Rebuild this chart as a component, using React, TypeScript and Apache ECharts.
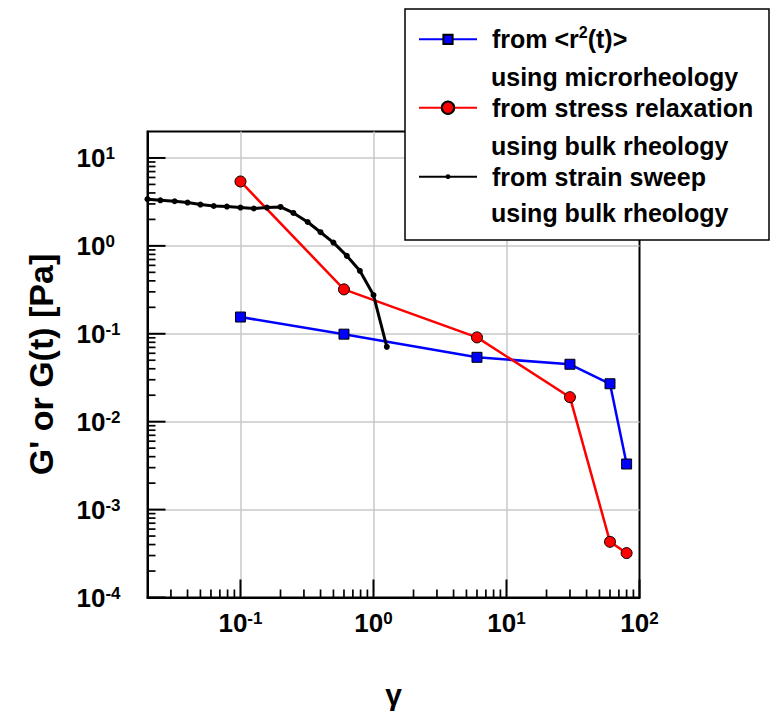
import React, { useEffect, useRef } from 'react';
import * as echarts from 'echarts';

// ---- data ----
const microX = [0.1, 0.6, 6, 30, 60, 80];
const microY = [0.155, 0.099, 0.054, 0.045, 0.027, 0.0033];

const relaxX = [0.1, 0.6, 6, 30, 60, 80];
const relaxY = [5.4, 0.32, 0.091, 0.019, 0.00043, 0.00032];

const sweepX = [0.02, 0.025, 0.032, 0.04, 0.05, 0.063, 0.079, 0.1, 0.126, 0.158, 0.2, 0.25, 0.32, 0.4, 0.5, 0.63, 0.79, 1.0, 1.26];
const sweepY = [3.4, 3.3, 3.22, 3.11, 2.95, 2.84, 2.8, 2.73, 2.66, 2.73, 2.77, 2.37, 1.87, 1.43, 1.09, 0.77, 0.52, 0.276, 0.071];

const seriesNames = ['micro', 'relax', 'sweep'];
const legendLine1 = ['{t|from <r}{u|2}{t|(t)>}', '{t|from stress relaxation}', '{t|from strain sweep}'];
const legendLine2 = ['using microrheology', 'using bulk rheology', 'using bulk rheology'];

// ---- axes ----
const X_MIN = 0.02;
const X_MAX = 100;
const Y_MIN = 1e-4;
const Y_MAX = 20;
const xMajor = [0.1, 1, 10, 100];
const yMajor = [1e-4, 1e-3, 1e-2, 1e-1, 1, 10];
const xDecades = [0.01, 0.1, 1, 10];
const yDecades = [1e-4, 1e-3, 1e-2, 1e-1, 1, 10];
const minorSteps = [2, 3, 4, 5, 6, 7, 8, 9];

const FONT = '"Liberation Sans", Arial, Helvetica, sans-serif';

function pairs(xs: number[], ys: number[]) {
  return xs.map((x, i) => [x, ys[i]]);
}

function expLabel(v: number) {
  const e = Math.log10(v);
  const r = Math.round(e);
  if (Math.abs(e - r) > 1e-6) return '';
  return `{b|10}{s|${r}}`;
}

const labelRich = {
  b: { fontSize: 26, fontWeight: 'bold', fontFamily: FONT, color: '#000', lineHeight: 26 },
  s: { fontSize: 17, fontWeight: 'bold', fontFamily: FONT, color: '#000', verticalAlign: 'top', lineHeight: 17 },
};

function tickSeries(name: string, data: number[][], isX: boolean, len: number, width: number) {
  return {
    type: 'custom',
    name,
    silent: true,
    clip: false,
    z: 3,
    encode: { x: 0, y: 1 },
    data,
    renderItem: (params: any, api: any) => {
      const p = api.coord([api.value(0), api.value(1)]);
      return {
        type: 'line',
        shape: isX
          ? { x1: p[0], y1: p[1], x2: p[0], y2: p[1] - len }
          : { x1: p[0], y1: p[1], x2: p[0] + len, y2: p[1] },
        style: { stroke: '#000', lineWidth: width },
      };
    },
  };
}

export default function App() {
  const ref = useRef<HTMLDivElement>(null);
  useEffect(() => {
    if (!ref.current) return;
    const chart = echarts.init(ref.current, undefined, { renderer: 'svg' });

    const xMinorData: number[][] = [];
    xDecades.forEach((d) => minorSteps.forEach((m) => {
      const v = d * m;
      if (v > X_MIN * 1.001 && v < X_MAX * 0.999) xMinorData.push([v, Y_MIN]);
    }));
    const yMinorData: number[][] = [];
    yDecades.forEach((d) => minorSteps.forEach((m) => {
      const v = d * m;
      if (v > Y_MIN * 1.001 && v < Y_MAX * 0.999) yMinorData.push([X_MIN, v]);
    }));
    const xMajorData = xMajor.map((v) => [v, Y_MIN]);
    const yMajorData = yMajor.map((v) => [X_MIN, v]);

    const legendText = () => ({
      fontSize: 25,
      fontWeight: 'bold',
      fontFamily: FONT,
      color: '#000',
      lineHeight: 30,
      padding: [0, 0, 0, 10],
      rich: {
        t: { fontSize: 25, fontWeight: 'bold', fontFamily: FONT, color: '#000', lineHeight: 30 },
        u: { fontSize: 16, fontWeight: 'bold', fontFamily: FONT, color: '#000', verticalAlign: 'top', lineHeight: 18 },
      },
    });

    const legendTops = [24.3, 92.7, 161.7];
    const legendHeights = [11.5, 15.5, 6];
    const line2Y = [77.3, 145.7, 213.3];

    const axisCommon = {
      type: 'log',
      logBase: 10,
      nameLocation: 'middle',
      axisLine: { show: true, lineStyle: { color: '#000', width: 2 } },
      axisTick: { show: false },
      splitLine: { show: true, showMinLine: false, showMaxLine: false, lineStyle: { color: '#c8c8c8', width: 1.5 } },
      minorTick: { show: false },
    };

    const option: any = {
      animation: false,
      backgroundColor: '#fff',
      grid: {
        left: 147.5,
        top: 131.5,
        width: 492,
        height: 466,
        show: true,
        borderColor: '#000',
        borderWidth: 2,
        backgroundColor: 'transparent',
      },
      xAxis: {
        ...axisCommon,
        min: X_MIN,
        max: X_MAX,
        name: 'γ',
        nameGap: 82,
        nameTextStyle: { fontSize: 30, fontWeight: 'bold', fontFamily: FONT, color: '#000' },
        axisLabel: {
          margin: 12,
          showMinLabel: false,
          fontSize: 26,
          fontWeight: 'bold',
          fontFamily: FONT,
          color: '#000',
          formatter: expLabel,
          rich: labelRich,
        },
      },
      yAxis: {
        ...axisCommon,
        min: Y_MIN,
        max: Y_MAX,
        name: "G' or G(t) [Pa]",
        nameRotate: 90,
        nameGap: 90,
        nameTextStyle: { fontSize: 34, fontWeight: 'bold', fontFamily: FONT, color: '#000' },
        axisLabel: {
          margin: 71,
          align: 'left',
          showMaxLabel: false,
          fontSize: 26,
          fontWeight: 'bold',
          fontFamily: FONT,
          color: '#000',
          formatter: expLabel,
          rich: labelRich,
        },
      },
      legend: seriesNames.map((n, i) => ({
        data: [n],
        orient: 'vertical',
        left: 418,
        top: legendTops[i],
        padding: 0,
        itemWidth: 58,
        itemHeight: legendHeights[i],
        selectedMode: false,
        z: 20,
        formatter: () => legendLine1[i],
        textStyle: legendText(),
      })),
      graphic: [
        {
          type: 'rect',
          z: 10,
          shape: { x: 405, y: 9, width: 364, height: 231 },
          style: { fill: '#fff', stroke: '#000', lineWidth: 1.5 },
        },
        ...legendLine2.map((t, i) => ({
          type: 'text',
          z: 11,
          x: 491,
          y: line2Y[i],
          style: {
            text: t,
            fontSize: 25,
            fontWeight: 'bold',
            fontFamily: FONT,
            fill: '#000',
            verticalAlign: 'middle',
            textVerticalAlign: 'middle',
          },
        })),
      ],
      series: [
        tickSeries('xMinorTicks', xMinorData, true, 8, 1.7),
        tickSeries('yMinorTicks', yMinorData, false, 8, 1.7),
        tickSeries('xMajorTicks', xMajorData, true, 18, 2),
        tickSeries('yMajorTicks', yMajorData, false, 18, 2),
        {
          type: 'line',
          name: 'micro',
          data: pairs(microX, microY),
          symbol: 'rect',
          symbolSize: 10,
          lineStyle: { color: '#0000ff', width: 2.5 },
          itemStyle: { color: '#0000ff', borderColor: '#000', borderWidth: 1 },
          z: 4,
        },
        {
          type: 'line',
          name: 'relax',
          data: pairs(relaxX, relaxY),
          symbol: 'circle',
          symbolSize: 11,
          lineStyle: { color: '#ff0000', width: 2.5 },
          itemStyle: { color: '#ff0000', borderColor: '#000', borderWidth: 1 },
          z: 4,
        },
        {
          type: 'line',
          name: 'sweep',
          data: pairs(sweepX, sweepY),
          symbol: 'circle',
          symbolSize: 6,
          lineStyle: { color: '#000', width: 3 },
          itemStyle: { color: '#000' },
          z: 4,
        },
      ],
    };

    chart.setOption(option);
    return () => chart.dispose();
  }, []);

  return (
    <div
      ref={ref}
      style={{ position: 'fixed', left: 0, top: 0, width: 770, height: 715, background: '#fff' }}
    />
  );
}
